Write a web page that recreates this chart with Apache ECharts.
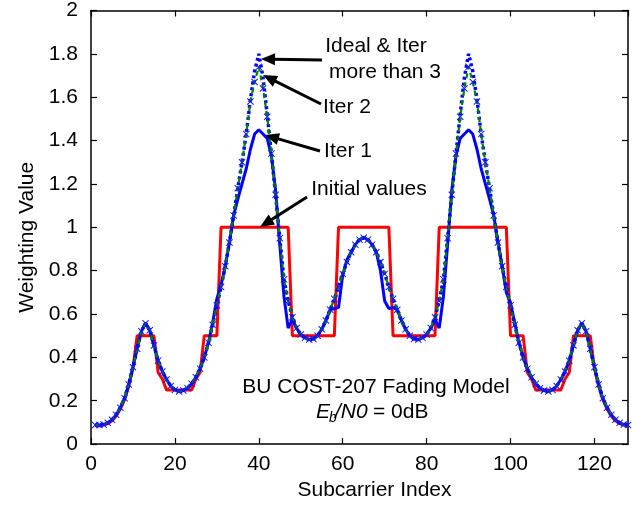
<!DOCTYPE html>
<html>
<head>
<meta charset="utf-8">
<script src="https://cdn.jsdelivr.net/npm/echarts@6/dist/echarts.min.js"></script>
<style>
html,body{margin:0;padding:0;background:#fff;}
#chart{width:644px;height:506px;}
</style>
</head>
<body>
<div id="chart"></div>
<script>
// Subcarrier indices 1..128
const subcarrier = [];
for (let i = 1; i <= 128; i++) subcarrier.push(i);

const xTicks = [0, 20, 40, 60, 80, 100, 120];
const yTicks = [0, 0.2, 0.4, 0.6, 0.8, 1, 1.2, 1.4, 1.6, 1.8, 2];

// Ideal weighting values (also Iter >= 3)
const ideal = [
  0.088,0.088,0.090,0.098,0.112,0.135,0.168,0.212,0.275,0.355,
  0.440,0.520,0.558,0.525,0.455,0.385,0.335,0.298,0.268,0.250,
  0.243,0.247,0.258,0.278,0.308,0.348,0.400,0.468,0.550,0.640,
  0.725,0.820,0.930,1.055,1.180,1.300,1.430,1.590,1.720,1.800,
  1.690,1.520,1.340,1.150,0.950,0.760,0.660,0.585,0.535,0.505,
  0.490,0.482,0.485,0.500,0.530,0.570,0.620,0.670,0.725,0.785,
  0.840,0.885,0.920,0.943,0.952,0.943,0.920,0.885,0.840,0.785,
  0.725,0.670,0.620,0.570,0.530,0.500,0.485,0.482,0.490,0.505,
  0.535,0.585,0.660,0.760,0.950,1.150,1.340,1.520,1.690,1.800,
  1.720,1.590,1.430,1.300,1.180,1.055,0.930,0.820,0.725,0.640,
  0.550,0.468,0.400,0.348,0.308,0.278,0.258,0.247,0.243,0.250,
  0.268,0.298,0.335,0.385,0.455,0.525,0.558,0.520,0.440,0.355,
  0.275,0.212,0.168,0.135,0.112,0.098,0.090,0.088
];

// Iter 2
const iter2 = [
  0.088,0.088,0.090,0.098,0.112,0.135,0.168,0.212,0.275,0.355,
  0.440,0.520,0.558,0.525,0.455,0.385,0.335,0.298,0.268,0.250,
  0.243,0.247,0.258,0.278,0.308,0.348,0.400,0.468,0.550,0.640,
  0.725,0.820,0.930,1.055,1.180,1.300,1.430,1.580,1.670,1.740,
  1.640,1.510,1.340,1.150,0.950,0.760,0.660,0.585,0.535,0.505,
  0.490,0.482,0.485,0.500,0.530,0.570,0.620,0.670,0.725,0.785,
  0.840,0.885,0.920,0.943,0.952,0.943,0.920,0.885,0.840,0.785,
  0.725,0.670,0.620,0.570,0.530,0.500,0.485,0.482,0.490,0.505,
  0.535,0.585,0.660,0.760,0.950,1.150,1.340,1.510,1.640,1.740,
  1.670,1.580,1.430,1.300,1.180,1.055,0.930,0.820,0.725,0.640,
  0.550,0.468,0.400,0.348,0.308,0.278,0.258,0.247,0.243,0.250,
  0.268,0.298,0.335,0.385,0.455,0.525,0.558,0.520,0.440,0.355,
  0.275,0.212,0.168,0.135,0.112,0.098,0.090,0.088
];

// Iter 1
const iter1 = [
  0.088,0.088,0.090,0.098,0.112,0.135,0.168,0.212,0.275,0.355,
  0.440,0.520,0.558,0.525,0.455,0.385,0.335,0.298,0.268,0.250,
  0.243,0.247,0.258,0.278,0.308,0.348,0.400,0.468,0.560,0.670,
  0.735,0.820,0.930,1.055,1.130,1.200,1.270,1.360,1.430,1.450,
  1.430,1.410,1.330,1.170,0.920,0.680,0.535,0.575,0.535,0.505,
  0.490,0.482,0.485,0.500,0.530,0.570,0.620,0.625,0.630,0.780,
  0.850,0.885,0.920,0.943,0.952,0.943,0.920,0.885,0.800,0.660,
  0.625,0.630,0.620,0.570,0.530,0.500,0.485,0.482,0.490,0.505,
  0.535,0.575,0.535,0.680,0.920,1.170,1.330,1.410,1.430,1.450,
  1.430,1.360,1.270,1.200,1.130,1.055,0.930,0.820,0.700,0.650,
  0.560,0.468,0.400,0.348,0.308,0.278,0.258,0.247,0.243,0.250,
  0.268,0.298,0.335,0.385,0.455,0.525,0.558,0.520,0.440,0.355,
  0.275,0.212,0.168,0.135,0.112,0.098,0.090,0.088
];

// Initial values
const initial = [
  0.085,0.085,0.088,0.095,0.108,0.130,0.162,0.205,0.268,0.350,
  0.5,0.5,0.5,0.5,0.5,0.33,0.30,0.25,0.25,0.25,
  0.25,0.25,0.25,0.25,0.30,0.33,0.5,0.5,0.5,0.5,
  1,1,1,1,1,1,1,1,1,1,
  1,1,1,1,1,1,1,0.5,0.5,0.5,
  0.5,0.5,0.5,0.5,0.5,0.5,0.5,0.5,1,1,
  1,1,1,1,1,1,1,1,1,1,
  1,0.5,0.5,0.5,0.5,0.5,0.5,0.5,0.5,0.5,
  0.5,0.5,1,1,1,1,1,1,1,1,
  1,1,1,1,1,1,1,1,1,0.5,
  0.5,0.5,0.5,0.33,0.30,0.25,0.25,0.25,0.25,0.25,
  0.25,0.25,0.30,0.33,0.5,0.5,0.5,0.5,0.5,0.350,
  0.268,0.205,0.162,0.130,0.108,0.095,0.088,0.085
];

const FONT = '"Liberation Sans", Arial, Helvetica, sans-serif';
const pair = arr => subcarrier.map((x, i) => [x, arr[i]]);
const crossPath = 'path://M0,1L1,0L5,4L9,0L10,1L6,5L10,9L9,10L5,6L1,10L0,9L4,5Z';

const chart = echarts.init(document.getElementById('chart'), null, {renderer: 'canvas'});

const axisCommon = {
  axisLine: {show: true, onZero: false, lineStyle: {color: '#000', width: 1.5}},
  axisTick: {show: true, inside: true, length: 6, lineStyle: {color: '#000', width: 1.2}},
  splitLine: {show: false}
};

// annotation arrows: [tailX, tailY, tipX, tipY]
const arrows = [
  [322, 60, 261, 59],
  [321, 104, 263, 75],
  [320, 151, 265, 135],
  [307, 197, 260, 227]
];
const graphics = [];
arrows.forEach(a => {
  const [tx, ty, px, py] = a;
  const dx = px - tx, dy = py - ty;
  const L = Math.sqrt(dx*dx + dy*dy);
  const ux = dx / L, uy = dy / L;
  const hl = 14, hw = 6;
  const bx = px - ux * hl, by = py - uy * hl;
  graphics.push({
    type: 'line', z: 100,
    shape: {x1: tx, y1: ty, x2: bx + ux * 2, y2: by + uy * 2},
    style: {stroke: '#000', lineWidth: 3}
  });
  graphics.push({
    type: 'polygon', z: 100,
    shape: {points: [[px, py], [bx - uy * hw, by + ux * hw], [bx + uy * hw, by - ux * hw]]},
    style: {fill: '#000'}
  });
});
const txt = (s, x, y, extra) => Object.assign({
  type: 'text', z: 100, x: x, y: y,
  style: {text: s, font: '21px ' + FONT, fill: '#000', textAlign: 'center', textVerticalAlign: 'middle'}
}, extra || {});
graphics.push(txt('Ideal & Iter', 376, 46));
graphics.push(txt('more than 3', 385, 72));
graphics.push(txt('Iter 2', 347, 107));
graphics.push(txt('Iter 1', 348, 151));
graphics.push(txt('Initial values', 369, 189));
graphics.push(txt('BU COST-207 Fading Model', 376, 387));
// E_b/N0 = 0dB
graphics.push({type: 'text', z: 100, x: 316, y: 412,
  style: {text: 'E', font: 'italic 21px ' + FONT, fill: '#000', textAlign: 'left', textVerticalAlign: 'middle'}});
graphics.push({type: 'text', z: 100, x: 329, y: 418,
  style: {text: 'b', font: 'italic 14px ' + FONT, fill: '#000', textAlign: 'left', textVerticalAlign: 'middle'}});
graphics.push({type: 'text', z: 100, x: 335, y: 412,
  style: {text: '/N0', font: 'italic 21px ' + FONT, fill: '#000', textAlign: 'left', textVerticalAlign: 'middle'}});
graphics.push({type: 'text', z: 100, x: 373, y: 412,
  style: {text: '= 0dB', font: '21px ' + FONT, fill: '#000', textAlign: 'left', textVerticalAlign: 'middle'}});

const option = {
  backgroundColor: '#fff',
  animation: false,
  grid: {left: 91, right: 16, top: 10, bottom: 57, containLabel: false},
  xAxis: [
    Object.assign({}, axisCommon, {
      type: 'value', min: 0, max: 128, interval: 20, position: 'bottom',
      name: 'Subcarrier Index', nameLocation: 'middle', nameGap: 35,
      nameTextStyle: {fontFamily: FONT, fontSize: 21, color: '#000', padding: [0, 0, 0, 30]},
      axisLabel: {show: true, fontFamily: FONT, fontSize: 21, color: '#000', margin: 10, showMaxLabel: false,
        formatter: v => (xTicks.indexOf(v) >= 0 ? String(v) : '')}
    }),
    Object.assign({}, axisCommon, {
      type: 'value', min: 0, max: 128, interval: 20, position: 'top',
      axisLabel: {show: false}
    })
  ],
  yAxis: [
    Object.assign({}, axisCommon, {
      type: 'value', min: 0, max: 2, interval: 0.2, position: 'left',
      name: 'Weighting Value', nameLocation: 'middle', nameGap: 52,
      nameTextStyle: {fontFamily: FONT, fontSize: 21, color: '#000', padding: [0, 20, 0, 0]},
      axisLabel: {show: true, fontFamily: FONT, fontSize: 21, color: '#000', margin: 13,
        formatter: v => {
          const t = yTicks.find(k => Math.abs(k - v) < 1e-6);
          return t === undefined ? '' : String(t);
        }}
    }),
    Object.assign({}, axisCommon, {
      type: 'value', min: 0, max: 2, interval: 0.2, position: 'right',
      axisLabel: {show: false}
    })
  ],
  series: [
    {
      name: 'Initial values', type: 'line', data: pair(initial), z: 2,
      showSymbol: false, symbol: 'none',
      lineStyle: {color: '#ff0000', width: 3}
    },
    {
      name: 'Iter 1', type: 'line', data: pair(iter1), z: 3,
      showSymbol: false, symbol: 'none',
      lineStyle: {color: '#0000ff', width: 3}
    },
    {
      name: 'Ideal', type: 'line', data: pair(ideal), z: 4,
      showSymbol: false, symbol: 'none',
      lineStyle: {color: '#0000ff', width: 3.5, type: [3, 3]}
    },
    {
      name: 'Iter 2', type: 'line', data: pair(iter2), z: 5,
      symbol: crossPath, symbolSize: 7, showAllSymbol: true,
      itemStyle: {color: '#1515ff'},
      lineStyle: {color: '#008000', width: 2.2, type: [5, 4]}
    }
  ],
  graphic: graphics
};
chart.setOption(option);
</script>
</body>
</html>
